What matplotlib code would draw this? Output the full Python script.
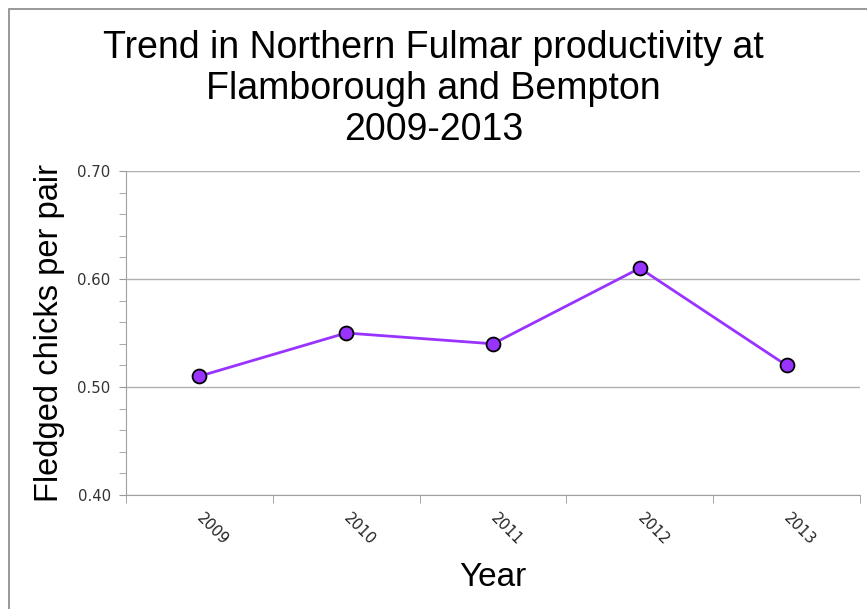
import numpy as np
import matplotlib
matplotlib.use('Agg')
import matplotlib.pyplot as plt
from matplotlib.patches import Rectangle
from matplotlib.ticker import MultipleLocator, FixedLocator

plt.rcParams['font.family'] = ['Liberation Sans', 'DejaVu Sans']

years = ['2009', '2010', '2011', '2012', '2013']
productivity = [0.51, 0.55, 0.54, 0.61, 0.52]

W, H = 867, 609
fig = plt.figure(figsize=(W / 100, H / 100), dpi=100)
# plot area in pixels: left 126, right 860, top 171, bottom 495
ax = fig.add_axes([126 / W, 1 - 495 / H, (860 - 126) / W, (495 - 171) / H])

# outer chart border
fig.patches.append(Rectangle((9 / W, -0.1), 1.2, 1 - 9 / H + 0.1, transform=fig.transFigure,
                             fill=False, edgecolor='#888888', linewidth=1.2))

x = np.arange(len(years))
ax.plot(x, productivity, color='#9933FF', linewidth=2, marker='o', markersize=10,
        markerfacecolor='#9933FF', markeredgecolor='black', markeredgewidth=1.3, zorder=3)

ax.set_xlim(-0.5, len(years) - 0.5)
ax.set_ylim(0.40, 0.70)

ax.yaxis.set_minor_locator(MultipleLocator(0.02))
ax.set_yticks([0.40, 0.50, 0.60, 0.70])
ax.set_yticklabels(['0.40', '0.50', '0.60', '0.70'], family='DejaVu Sans', color='#333333')
ax.grid(axis='y', which='major', color='#b0b0b0', linewidth=1)
ax.set_axisbelow(True)

# major ticks are invisible, only carry the labels; nudge them a little right
ax.set_xticks(x + 0.035)
ax.set_xticklabels(years, rotation=-45, ha='left', va='top', rotation_mode='anchor',
                   family='DejaVu Sans', color='#222222')
ax.xaxis.set_minor_locator(FixedLocator(np.arange(-0.5, len(years), 1)))
ax.tick_params(axis='x', which='major', length=0, pad=11, labelsize=10.7)
ax.tick_params(axis='x', which='minor', length=6, color='#999999')
ax.tick_params(axis='y', which='both', length=5, color='#999999', labelsize=10.7, pad=6)

for side in ['top', 'right']:
    ax.spines[side].set_visible(False)
for side in ['left', 'bottom']:
    ax.spines[side].set_color('#a0a0a0')

ax.set_xlabel('Year', fontsize=24, labelpad=10)
ax.set_ylabel('Fledged chicks per pair', fontsize=23.5, labelpad=9)

fig.text(0.5, 1 - 30 / H, 'Trend in Northern Fulmar productivity at\nFlamborough and Bempton\n2009-2013',
         ha='center', va='top', fontsize=27, linespacing=1.18)

fig.savefig('out.png', dpi=100)
